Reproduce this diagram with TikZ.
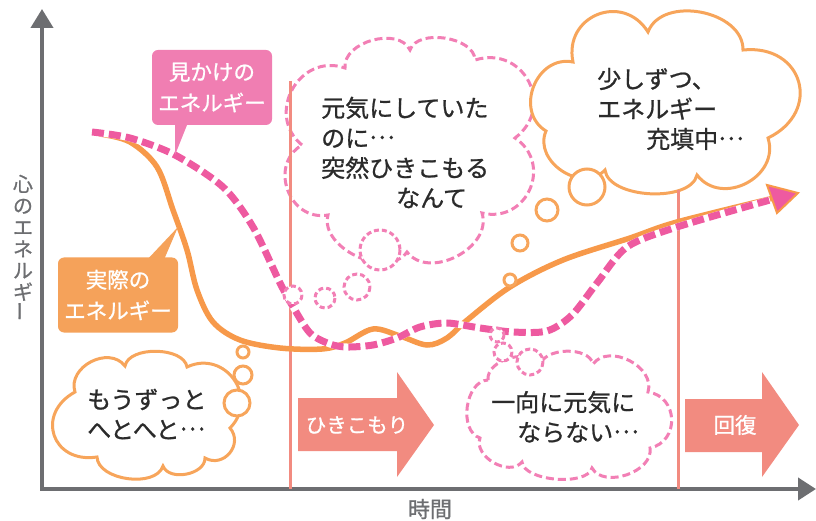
\documentclass[tikz,border=0pt]{standalone}
\usepackage{fontspec}
\usepackage{graphicx}
\newfontfamily\jp[FakeBold=0.9]{Noto Sans CJK JP}
\newcommand\middots{\raisebox{0.34em}{…}}
\usetikzlibrary{arrows.meta}
\definecolor{axisgray}{HTML}{6D6E71}
\definecolor{salmon}{HTML}{F28B80}
\definecolor{pinklabel}{HTML}{F07EB2}
\definecolor{orangelabel}{HTML}{F5A25A}
\definecolor{orangeline}{HTML}{F7994A}
\definecolor{pinkline}{HTML}{EE5AA0}
\definecolor{cloudpink}{HTML}{F27FB5}
\definecolor{cloudorange}{HTML}{F7A55B}
\definecolor{txt}{HTML}{2B2B2B}
\begin{document}
\begin{tikzpicture}[x=1pt,y=-1pt,
  axis/.style={draw=axisgray,line width=4pt,line join=miter},
  cloudO/.style={draw=cloudorange,line width=3pt,fill=white},
  cloudP/.style={draw=cloudpink,line width=3pt,dash pattern=on 8pt off 4pt,fill=white},
  cloudtext/.style={font=\jp\fontsize{24}{30}\selectfont,text=txt,align=left,inner sep=0pt,anchor=west},
  labelbox/.style={rounded corners=6pt,minimum width=120pt,minimum height=75pt,text=white,align=center,inner sep=0pt,font=\jp\fontsize{21.5}{31}\selectfont},
  arrowtext/.style={text=white,inner sep=0pt},
  orangecurve/.style={draw=orangeline,line width=5.5pt,line cap=round},
  pinkcurve/.style={draw=pinkline,line width=7pt,dash pattern=on 12pt off 5pt},
  pinkunder/.style={draw=white,line width=7pt},
]
\useasboundingbox (0,0) rectangle (816,521);

% axes
\draw[axis,{Triangle[length=19pt,width=22pt]}-{Triangle[length=18pt,width=22pt]}] (42,9) -- (42,489) -- (816,489);
\node[font=\jp\fontsize{20}{21.6}\selectfont,text=axisgray,align=center,inner sep=0pt] (ylab) at (23,248) {心\\の\\エ\\ネ\\ル\\ギ\\\rotatebox{90}{ー}};
\node[font=\jp\fontsize{22}{25}\selectfont,text=axisgray,inner sep=0pt] (xlab) at (430,509) {時間};

% block arrows
\fill[salmon] (298,398) -- (397,398) -- (397,372) -- (434,425) -- (397,477) -- (397,451) -- (298,451) -- cycle;
\node[arrowtext,font=\jp\fontsize{20.5}{24}\selectfont] (hikiko) at (357,425) {ひきこもり};
\fill[salmon] (685,399) -- (762,399) -- (762,372) -- (799,425) -- (762,477) -- (762,452) -- (685,452) -- cycle;
\node[arrowtext,font=\jp\fontsize{21.5}{24}\selectfont] (kaifuku) at (735,425) {回復};

% clouds
\draw[cloudP] (302,145) to[bend left=80,looseness=1.4] (345,68)
  to[bend left=80,looseness=1.0] (410,50)
  to[bend left=80,looseness=0.9] (475,60)
  to[bend left=80,looseness=1.5] (515,138)
  to[bend left=80,looseness=1.45] (482,213)
  to[bend left=80,looseness=1.1] (407,252)
  to[bend left=80,looseness=1.0] (328,215)
  to[bend left=80,looseness=1.35] (302,145) -- cycle;
\draw[cloudO] (573,62) to[bend left=80,looseness=1.5] (648,32)
  to[bend left=80,looseness=1.05] (743,50)
  to[bend left=80,looseness=1.7] (768,138)
  to[bend left=80,looseness=1.3] (697,175)
  to[bend left=80,looseness=0.8] (605,170)
  to[bend left=80,looseness=1.2] (546,131)
  to[bend left=80,looseness=1.3] (573,62) -- cycle;
\draw[cloudO] (75,392) to[bend left=80,looseness=1.2] (125,366)
  to[bend left=80,looseness=0.85] (187,367)
  to[bend left=80,looseness=1.45] (230,428)
  to[bend left=80,looseness=1.4] (205,458)
  to[bend left=80,looseness=1.0] (163,466)
  to[bend left=80,looseness=0.9] (97,457)
  to[bend left=80,looseness=1.7] (75,392) -- cycle;
\draw[cloudP] (488,380) to[bend left=80,looseness=1.0] (540,366)
  to[bend left=80,looseness=0.9] (593,364)
  to[bend left=80,looseness=1.1] (648,392)
  to[bend left=80,looseness=1.4] (650,448)
  to[bend left=80,looseness=1.0] (592,468)
  to[bend left=80,looseness=0.7] (522,462)
  to[bend left=80,looseness=1.05] (480,438)
  to[bend left=80,looseness=1.0] (488,380) -- cycle;

% vertical period lines
\draw[salmon,line width=3pt] (290,81) -- (290,489);
\draw[salmon,line width=3pt] (678,190) -- (678,489);

% curves
\draw[orangecurve] plot[smooth,tension=0.55] coordinates {(100,134) (130,142) (157,167) (173,210) (187,250) (197,290) (213,322) (240,340) (280,348) (322,349) (345,343) (373,329) (400,336) (427,345) (447,338) (466,321) (510,287) (563,260) (630,238) (677,222) (778,197)};
\draw[pinkunder] plot[smooth,tension=0.5] coordinates {(92,132) (130,138) (175,155) (223,187) (253,227) (280,283) (292,305) (310,333) (330,344) (347,347) (373,345) (397,338) (420,327) (447,323) (480,328) (513,332) (547,331) (572,315) (597,283) (627,247) (677,227) (770,200)};
\draw[pinkcurve] plot[smooth,tension=0.5] coordinates {(92,132) (130,138) (175,155) (223,187) (253,227) (280,283) (292,305) (310,333) (330,344) (347,347) (373,345) (397,338) (420,327) (447,323) (480,328) (513,332) (547,331) (572,315) (597,283) (627,247) (677,227) (770,200)};
\filldraw[fill=pinkline,draw=orangeline,line width=2pt,line join=miter] (767,185) -- (798,193) -- (777,213) -- cycle;

% bubbles
\foreach \x/\y/\r in {587/187/18, 547/210/11, 520/243/8, 510/280/6, 237/403/13, 243/375/9, 243/352/6}
  \draw[cloudO] (\x,\y) circle[radius=\r];
\foreach \x/\y/\r in {380/250/20, 357/287/13, 325/298/10, 293/295/9, 530/362/13, 503/352/9, 497/335/7}
  \draw[cloudP,dash pattern=on 5pt off 3pt] (\x,\y) circle[radius=\r];

% cloud texts
\node[cloudtext] (tA) at (321,152.5) {元気にしていた\\のに\middots\\突然ひきこもる\\\hspace*{75pt}なんて};
\node[cloudtext] (tB) at (597,109) {少しずつ、\\エネルギー\\\hspace*{49pt}充填中\middots};
\node[cloudtext] (tC) at (87,414) {もうずっと\\へとへと\middots};
\node[cloudtext] (tD) at (491,417) {一向に元気に\\\hspace*{26pt}ならない\middots};

% labels
\node[labelbox,fill=pinklabel] (mikake) at (212,87.5) {見かけの\\エネルギー};
\fill[pinklabel] (175,120) -- (189,120) -- (175,155) -- cycle;
\node[labelbox,fill=orangelabel] (jissai) at (118,295) {実際の\\エネルギー};
\fill[orangelabel] (145,262) -- (163,262) -- (178,227) -- cycle;
\end{tikzpicture}
\end{document}
